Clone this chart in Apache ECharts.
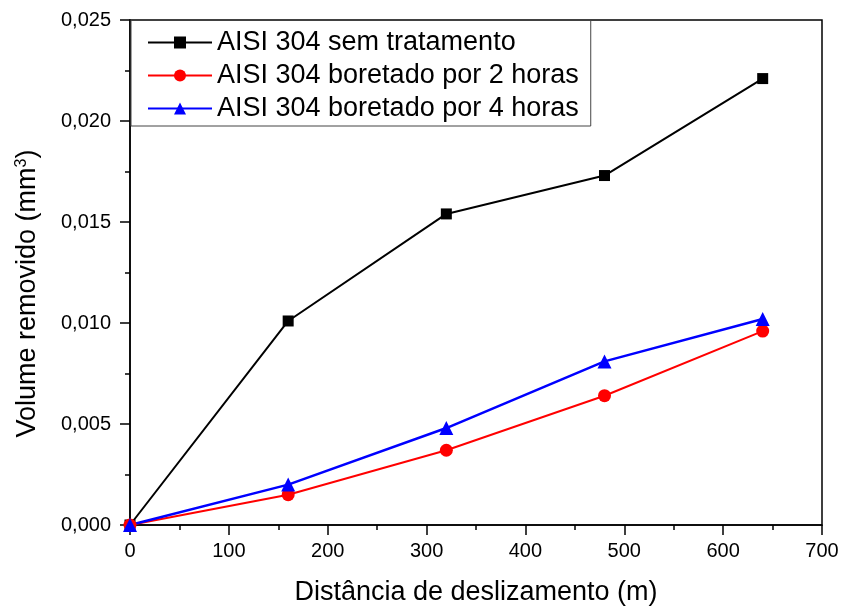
<!DOCTYPE html>
<html><head><meta charset="utf-8">
<script src="https://cdn.jsdelivr.net/npm/echarts@6/dist/echarts.min.js"></script>
<style>html,body{margin:0;padding:0;background:#fff}#c{width:842px;height:607px}</style>
</head><body><div id="c"></div>
<script>
const distances = [0, 160, 320, 480, 640];
const semTratamento = [0, 0.0101, 0.0154, 0.0173, 0.0221];
const boretado2h = [0, 0.0015, 0.0037, 0.0064, 0.0096];
const boretado4h = [0, 0.0020, 0.0048, 0.0081, 0.0102];
const seriesNames = ['AISI 304 sem tratamento', 'AISI 304 boretado por 2 horas', 'AISI 304 boretado por 4 horas'];
const xTitle = 'Distância de deslizamento (m)';

const font = 'Liberation Sans, Arial, sans-serif';
const pair = (vals) => distances.map((d, i) => [d, vals[i]]);
const chart = echarts.init(document.getElementById('c'));
chart.setOption({
  animation: false,
  backgroundColor: '#fff',
  grid: { left: 130, right: 20, top: 20, bottom: 82, containLabel: false, outerBoundsMode: 'none',
    show: true, borderColor: '#000', borderWidth: 1.5, backgroundColor: 'transparent' },
  legend: {
    orient: 'vertical', left: 131, top: 20,
    padding: [9, 12, 4, 16],
    itemWidth: 64, itemHeight: 15, itemGap: 6,
    borderColor: '#444', borderWidth: 1,
    textStyle: { fontFamily: font, fontSize: 27, color: '#000' },
    data: seriesNames
  },
  xAxis: {
    type: 'value', min: 0, max: 700, interval: 100,
    name: xTitle, nameLocation: 'middle', nameGap: 54,
    nameTextStyle: { fontFamily: font, fontSize: 27, color: '#000' },
    axisLine: { show: true, lineStyle: { color: '#000', width: 1.5 } },
    axisTick: { show: true, inside: false, length: 10, lineStyle: { color: '#000', width: 1.5 } },
    minorTick: { show: true, splitNumber: 2, length: 5, lineStyle: { color: '#000', width: 1.5 } },
    axisLabel: { fontFamily: font, fontSize: 20, color: '#000', margin: 16 },
    splitLine: { show: false }
  },
  yAxis: {
    type: 'value', min: 0, max: 0.025, interval: 0.005,
    name: 'Volume removido (mm{s|3})', nameLocation: 'middle', nameGap: 88, nameRotate: 90,
    nameTextStyle: { fontFamily: font, fontSize: 27, color: '#000', padding: [0, 42, 0, 0],
      rich: { s: { fontFamily: font, fontSize: 16, color: '#000', verticalAlign: 'top', padding: [0, 0, 12, 0] } } },
    axisLine: { show: true, lineStyle: { color: '#000', width: 1.5 } },
    axisTick: { show: true, inside: false, length: 10, lineStyle: { color: '#000', width: 1.5 } },
    minorTick: { show: true, splitNumber: 2, length: 5, lineStyle: { color: '#000', width: 1.5 } },
    axisLabel: { fontFamily: font, fontSize: 20, color: '#000', margin: 19,
      formatter: v => v.toFixed(3).replace('.', ',') },
    splitLine: { show: false }
  },
  series: [
    { name: seriesNames[0], type: 'line', data: pair(semTratamento), symbol: 'rect', symbolSize: 11,
      lineStyle: { color: '#000', width: 2 }, itemStyle: { color: '#000' } },
    { name: seriesNames[1], type: 'line', data: pair(boretado2h), symbol: 'circle', symbolSize: 13,
      lineStyle: { color: '#ff0000', width: 2 }, itemStyle: { color: '#ff0000' } },
    { name: seriesNames[2], type: 'line', data: pair(boretado4h), symbol: 'triangle', symbolSize: 14,
      lineStyle: { color: '#0000ff', width: 2.5 }, itemStyle: { color: '#0000ff' } }
  ]
});
</script></body></html>
